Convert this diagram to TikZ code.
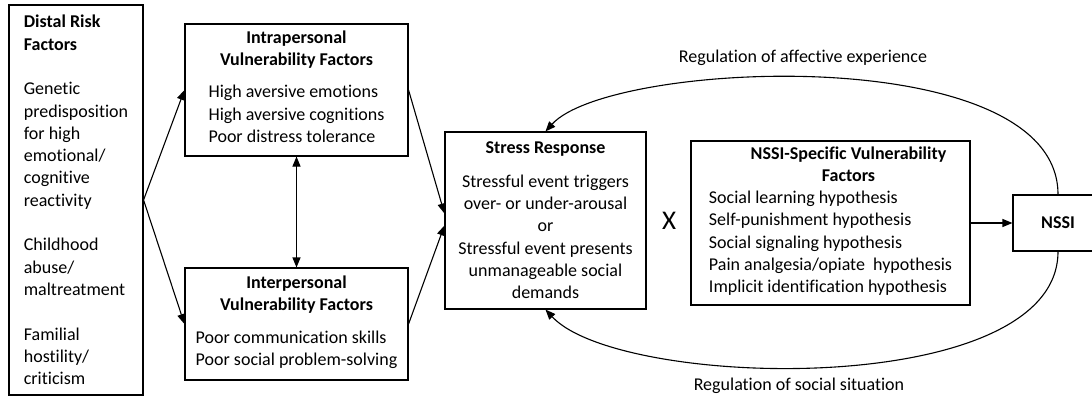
\documentclass[tikz,border=0pt]{standalone}
\usepackage{fontspec}
\setmainfont{Carlito}[Ligatures={NoCommon}]
\usepackage{tikz}
\usetikzlibrary{arrows.meta}

\begin{document}
\begin{tikzpicture}[x=1pt,y=-1pt,
  box/.style={draw,line width=1.1pt,inner sep=4pt,font=\fontsize{18}{22.3}\selectfont,align=center},
  lbl/.style={font=\fontsize{18}{22.3}\selectfont},
  arr/.style={-{Triangle[length=10pt,width=8pt]},line width=1.1pt},
  darr/.style={{Triangle[length=10pt,width=8pt]}-{Triangle[length=10pt,width=8pt]},line width=1.1pt}]
  \useasboundingbox (0,0) rectangle (1092,396);
  \node[box,minimum width=134pt,minimum height=390pt,align=left] (distal) at (76,200)
    {\textbf{Distal Risk}\\\textbf{Factors}\\[22.3pt]Genetic\\predisposition\\for high\\emotional/\\cognitive\\reactivity\\[22.3pt]Childhood\\abuse/\\maltreatment\\[22.3pt]Familial\\hostility/\\criticism};
  \node[box,minimum width=223pt,minimum height=132pt] (intra) at (296.5,90)
    {\textbf{Intrapersonal}\\\textbf{Vulnerability Factors}\\[10pt]\begin{tabular}[t]{@{}l@{}}High aversive emotions\\High aversive cognitions\\Poor distress tolerance\end{tabular}};
  \node[box,minimum width=223pt,minimum height=112pt] (inter) at (296.5,324)
    {\textbf{Interpersonal}\\\textbf{Vulnerability Factors}\\[10pt]\begin{tabular}[t]{@{}l@{}}Poor communication skills\\Poor social problem-solving\end{tabular}};
  \node[box,minimum width=201pt,minimum height=177pt] (stress) at (545.5,220.5)
    {\textbf{Stress Response}\\[11pt]Stressful event triggers\\over- or under-arousal\\or\\Stressful event presents\\unmanageable social\\demands};
  \node[font=\fontsize{27}{30}\selectfont] (times) at (669,221) {X};
  \node[box,minimum width=279pt,minimum height=164pt] (spec) at (830.5,223)
    {\hspace*{36pt}\textbf{NSSI-Specific Vulnerability}\\\hspace*{36pt}\textbf{Factors}\\\begin{tabular}[t]{@{}l@{}}Social learning hypothesis\\Self-punishment hypothesis\\Social signaling hypothesis\\Pain analgesia/opiate~ hypothesis\\Implicit identification hypothesis\end{tabular}};
  \node[box,minimum width=90pt,minimum height=56pt] (nssi) at (1058,223) {\textbf{NSSI}};
  \node[lbl] (affect) at (803,58) {Regulation of affective experience};
  \node[lbl] (social) at (799,386) {Regulation of social situation};
  \draw[arr] (distal.east) -- (intra.west);
  \draw[arr] (distal.east) -- (inter.west);
  \draw[darr] (intra.south) -- (inter.north);
  \draw[arr] (intra.east) -- ([yshift=7pt]stress.west);
  \draw[arr] (inter.east) -- ([yshift=-5pt]stress.west);
  \draw[arr] (spec.east) -- (nssi.west);
  \draw[arr] (nssi.north) .. controls (1058,40) and (610,60) .. (stress.north);
  \draw[arr] (nssi.south) .. controls (1058,400) and (620,390) .. (stress.south);
\end{tikzpicture}
\end{document}
